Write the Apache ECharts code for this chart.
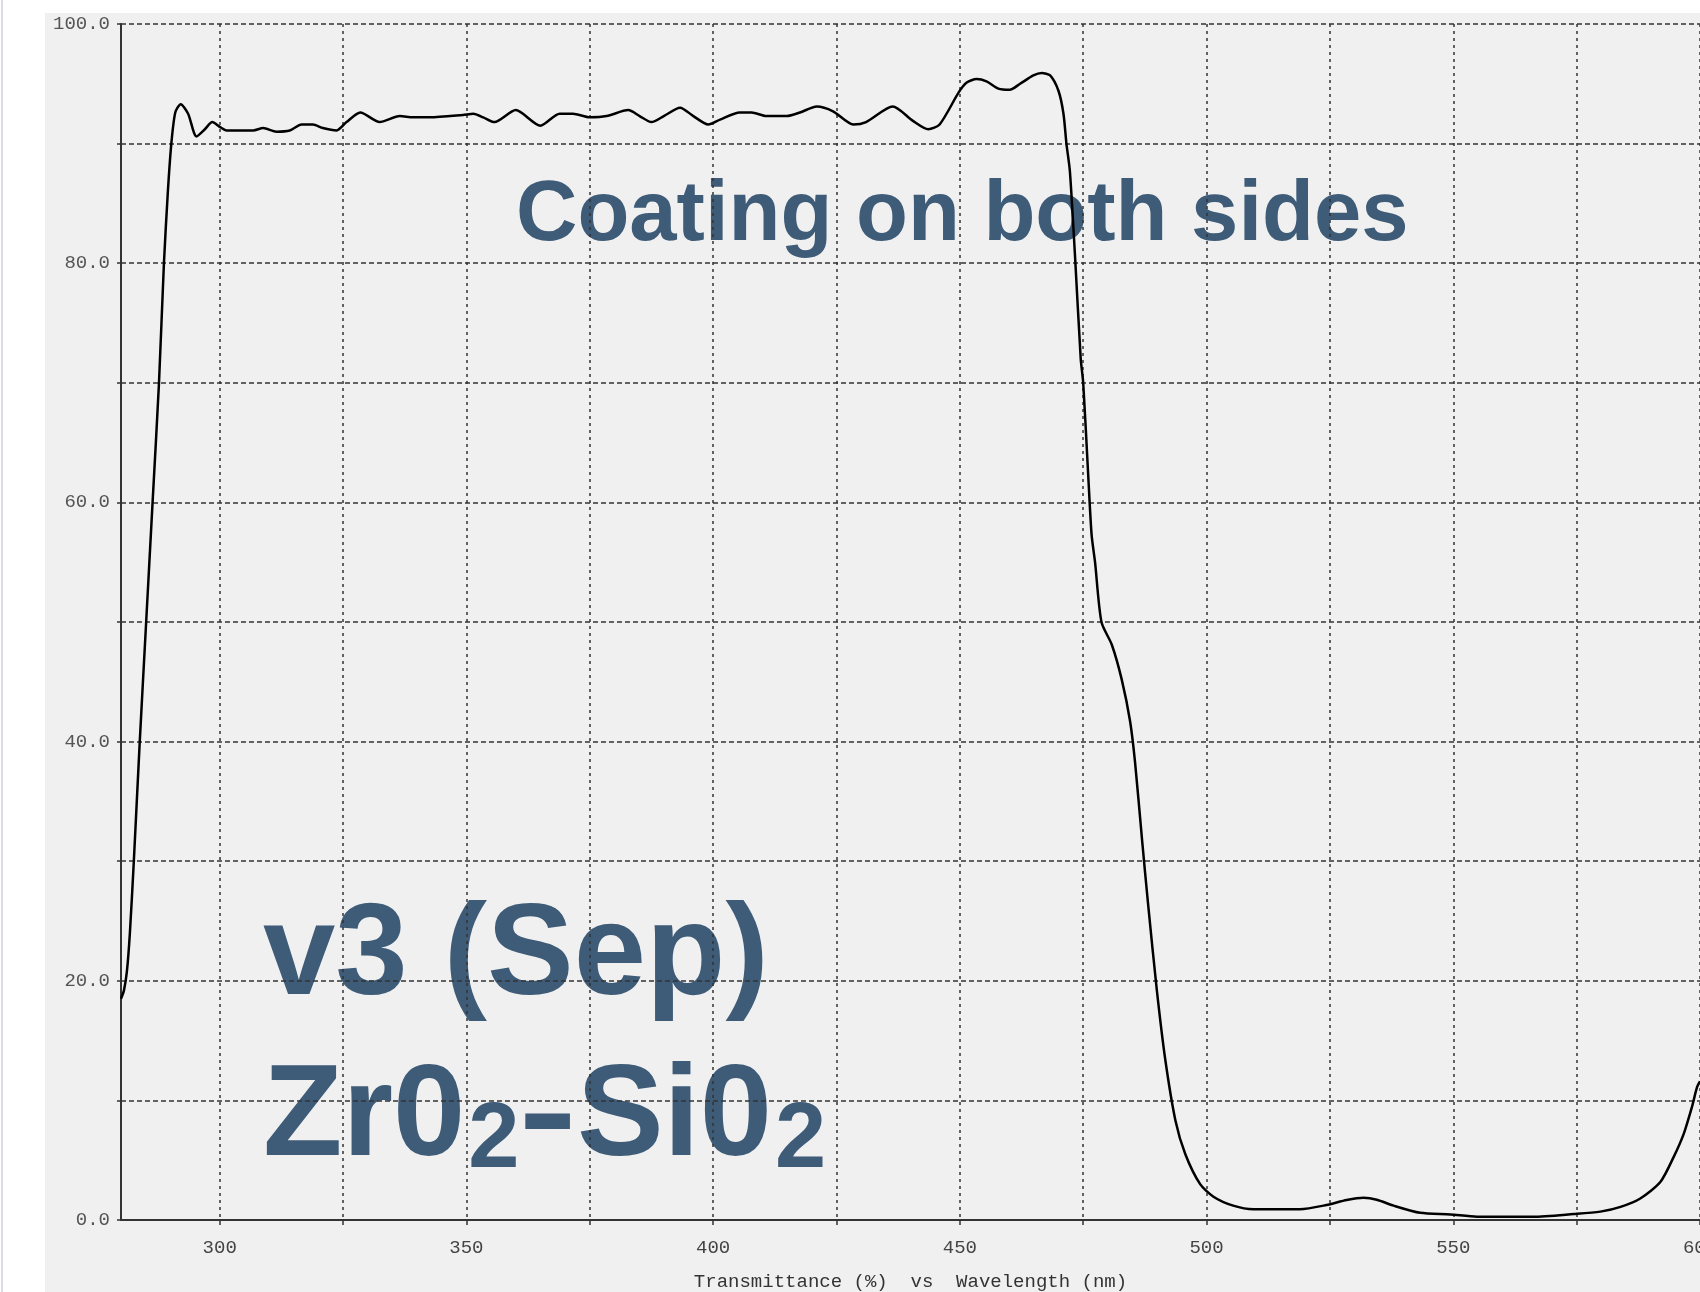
<!DOCTYPE html>
<html><head><meta charset="utf-8">
<script src="https://cdn.jsdelivr.net/npm/echarts@6/dist/echarts.min.js"></script>
<style>html,body{margin:0;padding:0;background:#fff}#c{width:1700px;height:1292px}</style>
</head><body><div id="c"></div>
<script>
const wavelength = [
  280.0, 280.6, 281.2, 281.8, 282.6, 283.8, 285.1, 286.4, 287.7, 288.7, 289.5, 290.2, 291.0, 292.1,
  293.6, 295.3, 297.0, 298.5, 300.0, 301.4, 306.8, 308.8, 311.5, 314.2, 316.6, 318.9, 320.9, 323.7,
  325.7, 328.5, 332.4, 336.5, 339.2, 342.6, 349.3, 351.4, 353.4, 355.7, 360.0, 365.0, 368.9, 371.6,
  375.0, 378.4, 382.8, 385.1, 387.5, 390.0, 393.3, 396.0, 399.0, 401.4, 405.4, 407.8, 410.8, 414.9,
  417.6, 421.0, 424.3, 428.4, 431.0, 436.4, 440.5, 443.6, 445.9, 449.8, 451.4, 453.4, 455.4, 457.8,
  460.1, 462.2, 464.9, 466.6, 468.3, 470.0, 471.0, 471.6, 472.3, 473.3, 474.5, 475.0, 476.0, 476.7,
  477.4, 478.7, 480.8, 482.8, 484.5, 485.5, 486.9, 488.2, 489.9, 491.6, 493.7, 495.7, 498.7, 501.4,
  505.4, 509.5, 518.9, 524.3, 528.4, 531.8, 534.5, 537.9, 543.3, 549.4, 554.8, 566.2, 574.4, 579.8,
  583.9, 587.9, 592.0, 594.7, 596.7, 598.4, 599.4, 600.0
];
const transmittance = [
  18.5, 19.2, 20.8, 24.0, 30.0, 40.0, 50.0, 60.0, 70.0, 80.0, 86.0, 90.0, 92.6, 93.3,
  92.5, 90.6, 91.2, 91.8, 91.4, 91.1, 91.1, 91.3, 91.0, 91.1, 91.6, 91.6, 91.3, 91.1,
  91.8, 92.6, 91.8, 92.3, 92.2, 92.2, 92.4, 92.5, 92.2, 91.8, 92.8, 91.5, 92.5, 92.5,
  92.2, 92.3, 92.8, 92.3, 91.8, 92.3, 93.0, 92.3, 91.6, 92.0, 92.6, 92.6, 92.3, 92.3,
  92.6, 93.1, 92.7, 91.6, 91.8, 93.1, 91.9, 91.2, 91.6, 94.3, 95.1, 95.4, 95.2, 94.6,
  94.5, 95.0, 95.7, 95.9, 95.7, 94.4, 92.5, 90.0, 87.7, 80.9, 72.0, 70.0, 62.4, 57.3,
  55.0, 50.0, 48.1, 45.2, 41.7, 38.3, 31.9, 26.2, 19.3, 13.5, 8.3, 5.5, 3.0, 1.95,
  1.2, 0.9, 0.9, 1.25, 1.67, 1.86, 1.7, 1.2, 0.6, 0.47, 0.28, 0.28, 0.5, 0.7,
  1.1, 1.8, 3.2, 5.3, 7.2, 9.5, 11.1, 11.6
];
const xTickValues = [300, 325, 350, 375, 400, 425, 450, 475, 500, 525, 550, 575, 600];
const xLabelValues = [300, 350, 400, 450, 500, 550, 600];
const yLabelValues = [0, 20, 40, 60, 80, 100];
const axisTitle = 'Transmittance (%)  vs  Wavelength (nm)';
const noteText = 'Coating on both sides';
const versionText = 'v3 (Sep)';
const formulaParts = [['Zr0', 'main'], ['2', 'sub'], ['-', 'dash'], ['Si0', 'main'], ['2', 'sub']];

const BLUE = '#3e5b78';
const SANS = '"Liberation Sans", Arial, Helvetica, sans-serif';
const MONO = '"Liberation Mono", "Courier New", monospace';
const mctx = document.createElement('canvas').getContext('2d');
function textW(t, font) { mctx.font = font; return mctx.measureText(t).width; }

const bigSize = 130, subSize = 92;
const bigFont = 'bold ' + bigSize + 'px ' + SANS;
const subFont = 'bold ' + subSize + 'px ' + SANS;

const graphics = [
  { type: 'rect', shape: { x: 0, y: 0, width: 1700, height: 13 }, style: { fill: '#ffffff' }, z: -5, silent: true },
  { type: 'rect', shape: { x: 0, y: 0, width: 45, height: 1292 }, style: { fill: '#ffffff' }, z: -5, silent: true },
  { type: 'rect', shape: { x: 1, y: 0, width: 2, height: 1292 }, style: { fill: '#dadde2' }, z: -4, silent: true },
  { type: 'text', x: 516, y: 217, z: -1, silent: true,
    style: { text: noteText, font: 'bold 85px ' + SANS, fill: BLUE, align: 'left', verticalAlign: 'middle', textAlign: 'left', textVerticalAlign: 'middle' } },
  { type: 'text', x: 263, y: 958, z: -1, silent: true,
    style: { text: versionText, font: bigFont, fill: BLUE, align: 'left', verticalAlign: 'middle', textAlign: 'left', textVerticalAlign: 'middle' } }
];
let fx = 263;
formulaParts.forEach(([t, kind]) => {
  const font = kind === 'sub' ? subFont : bigFont;
  const sx = kind === 'dash' ? 1.35 : 1;
  const el = { type: 'text', x: fx + (kind === 'sub' ? 3 : 0), y: kind === 'sub' ? 1142 : 1119, z: -1, silent: true,
    scaleX: sx,
    style: { text: t, font: font, fill: BLUE, align: 'left', verticalAlign: 'middle', textAlign: 'left', textVerticalAlign: 'middle' } };
  graphics.push(el);
  fx += textW(t, font) * sx + (kind === 'sub' ? 2 : 0);
});

const chart = echarts.init(document.getElementById('c'), null, { renderer: 'canvas' });
chart.setOption({
  animation: false,
  backgroundColor: '#f0f0f0',
  grid: { left: 121, right: 0, top: 24, bottom: 72, containLabel: false, outerBoundsMode: 'none' },
  xAxis: {
    type: 'value', min: 280, max: 600,
    name: axisTitle, nameLocation: 'middle', nameGap: 52,
    nameTextStyle: { fontFamily: MONO, fontSize: 19, color: '#333' },
    axisLine: { show: true, onZero: false, lineStyle: { color: '#333', width: 2 } },
    axisTick: { show: true, length: 5, customValues: xTickValues, lineStyle: { color: '#333', width: 1.5 } },
    axisLabel: { customValues: xLabelValues, margin: 18, fontFamily: MONO, fontSize: 19, color: '#444',
      formatter: v => String(v) },
    splitLine: { show: true, lineStyle: { color: '#333', width: 1.5, type: [3, 4] } }
  },
  yAxis: {
    type: 'value', min: 0, max: 100, interval: 10,
    axisLine: { show: true, lineStyle: { color: '#333', width: 2 } },
    axisTick: { show: true, length: 4, lineStyle: { color: '#333', width: 1.5 } },
    axisLabel: { margin: 11, fontFamily: MONO, fontSize: 19, color: '#555',
      formatter: v => (yLabelValues.indexOf(v) >= 0 ? v.toFixed(1) : '') },
    splitLine: { show: true, lineStyle: { color: '#333', width: 1.5, type: [5, 3] } }
  },
  graphic: { elements: graphics },
  series: [{
    type: 'line',
    data: wavelength.map((x, i) => [x, transmittance[i]]),
    showSymbol: false,
    smooth: 0.25,
    lineStyle: { color: '#000', width: 2.5 },
    z: 3
  }]
});
</script></body></html>
